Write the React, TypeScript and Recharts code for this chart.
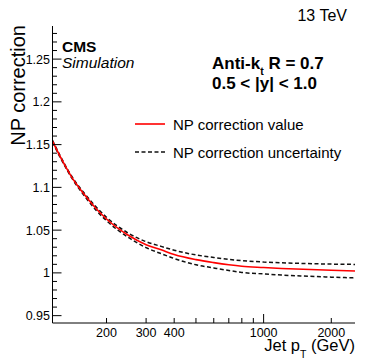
import { LineChart, Line, XAxis, YAxis } from "recharts";

// jet pT (GeV) and NP correction
const ptValues = [115, 125, 140, 160, 180, 200, 250, 300, 350, 400, 500, 600, 700, 800, 1000, 1200, 1500, 2000, 2550];
const npValue = [1.154, 1.135, 1.112, 1.091, 1.075, 1.063, 1.044, 1.033, 1.027, 1.0215, 1.0155, 1.012, 1.0095, 1.0078, 1.0063, 1.0052, 1.0042, 1.003, 1.0022];
const npUp = [1.155, 1.136, 1.113, 1.0925, 1.077, 1.065, 1.0465, 1.0365, 1.031, 1.0265, 1.021, 1.018, 1.0158, 1.0143, 1.0127, 1.0118, 1.011, 1.0103, 1.0099];
const npDown = [1.153, 1.134, 1.111, 1.0895, 1.073, 1.061, 1.0415, 1.0295, 1.0225, 1.0168, 1.0095, 1.0058, 1.0028, 1.0005, 0.9988, 0.9975, 0.9963, 0.995, 0.9941];

const xTicks = [200, 300, 400, 500, 600, 700, 800, 900, 1000, 2000];
const xLabels = [200, 300, 400, 1000, 2000];
const yTicks = [
  0.95, 0.96, 0.97, 0.98, 0.99, 1.0, 1.01, 1.02, 1.03, 1.04, 1.05, 1.06, 1.07, 1.08, 1.09, 1.1, 1.11,
  1.12, 1.13, 1.14, 1.15, 1.16, 1.17, 1.18, 1.19, 1.2, 1.21, 1.22, 1.23, 1.24, 1.25, 1.26, 1.27, 1.28,
];
const yLabels = [0.95, 1.0, 1.05, 1.1, 1.15, 1.2, 1.25];

const FONT = "'Liberation Sans', Arial, Helvetica, sans-serif";

const data = ptValues.map((pt, i) => ({
  pt,
  value: npValue[i],
  up: npUp[i],
  down: npDown[i],
}));

function XTick(props: any) {
  const { x, y, payload } = props;
  const v = payload.value;
  const len = v === 1000 ? 9 : 5;
  return (
    <g>
      <line x1={x} y1={y} x2={x} y2={y - len} stroke="#000" strokeWidth={1} />
      {xLabels.includes(v) && (
        <text x={x} y={y + 13.5} textAnchor="middle" fontSize={12.5} fontFamily={FONT} fill="#000">
          {v}
        </text>
      )}
    </g>
  );
}

function YTick(props: any) {
  const { x, y, payload } = props;
  const v = payload.value;
  const major = yLabels.some((l) => Math.abs(l - v) < 1e-6);
  return (
    <g>
      <line x1={x} y1={y} x2={x + (major ? 9 : 4.5)} y2={y} stroke="#000" strokeWidth={1} />
      {major && (
        <text x={x - 2.5} y={y + 4.5} textAnchor="end" fontSize={12.5} fontFamily={FONT} fill="#000">
          {Number(v.toFixed(2))}
        </text>
      )}
    </g>
  );
}

export default function App() {
  return (
    <div style={{ width: 374, height: 360, background: "#fff" }}>
      <style>{`body{margin:0}`}</style>
      <LineChart
        width={374}
        height={360}
        data={data}
        margin={{ top: 26, right: 19, bottom: 0, left: 0 }}
      >
        <XAxis
          dataKey="pt"
          type="number"
          scale="log"
          domain={[115, 2550]}
          allowDataOverflow
          ticks={xTicks}
          interval={0}
          tick={<XTick />}
          tickLine={false}
          tickSize={0}
          tickMargin={0}
          height={37}
          axisLine={{ stroke: "#000" }}
        />
        <XAxis
          xAxisId="top"
          orientation="top"
          dataKey="pt"
          type="number"
          scale="log"
          domain={[115, 2550]}
          allowDataOverflow
          tick={false}
          tickLine={false}
          height={0}
          axisLine={{ stroke: "#000" }}
        />
        <YAxis
          type="number"
          domain={[0.9414, 1.2887]}
          allowDataOverflow
          ticks={yTicks}
          interval={0}
          tick={<YTick />}
          tickLine={false}
          tickSize={0}
          tickMargin={0}
          width={52.5}
          axisLine={{ stroke: "#000" }}
        />
        <YAxis
          yAxisId="right"
          orientation="right"
          type="number"
          domain={[0.9414, 1.2887]}
          tick={false}
          tickLine={false}
          width={0}
          axisLine={{ stroke: "#000" }}
        />
        <Line
          dataKey="up"
          type="monotone"
          stroke="#111"
          strokeWidth={1.5}
          strokeDasharray="4 2.5"
          dot={false}
          isAnimationActive={false}
        />
        <Line
          dataKey="down"
          type="monotone"
          stroke="#111"
          strokeWidth={1.5}
          strokeDasharray="4 2.5"
          dot={false}
          isAnimationActive={false}
        />
        <Line
          dataKey="value"
          type="monotone"
          stroke="#ff0000"
          strokeWidth={1.6}
          dot={false}
          isAnimationActive={false}
        />

        <g fontFamily={FONT} fill="#000">
          <text x={347} y={20.5} textAnchor="end" fontSize={16}>
            13 TeV
          </text>
          <text transform="translate(25,25) rotate(-90)" textAnchor="end" fontSize={20}>
            NP correction
          </text>
          <text x={355} y={351} textAnchor="end" fontSize={16.5}>
            Jet p
            <tspan fontSize={10.5} dy={7}>T</tspan>
            <tspan dy={-7}> (GeV)</tspan>
          </text>
          <text x={62} y={51.5} fontSize={15.5} fontWeight="bold">
            CMS
          </text>
          <text x={62} y={68} fontSize={15.5} fontStyle="italic">
            Simulation
          </text>
          <text x={212} y={69} fontSize={17} fontWeight="bold">
            Anti-k
            <tspan fontSize={10.5} dy={5.5}>t</tspan>
            <tspan dy={-5.5}> R = 0.7</tspan>
          </text>
          <text x={212} y={89} fontSize={17} fontWeight="bold">
            0.5 &lt; |y| &lt; 1.0
          </text>

          <line x1={135} y1={124} x2={165} y2={124} stroke="#ff0000" strokeWidth={1.6} />
          <text x={173} y={130} fontSize={15}>
            NP correction value
          </text>
          <line x1={135} y1={152} x2={165} y2={152} stroke="#111" strokeWidth={1.5} strokeDasharray="4 2.5" />
          <text x={173} y={157.5} fontSize={15}>
            NP correction uncertainty
          </text>
        </g>
      </LineChart>
    </div>
  );
}
